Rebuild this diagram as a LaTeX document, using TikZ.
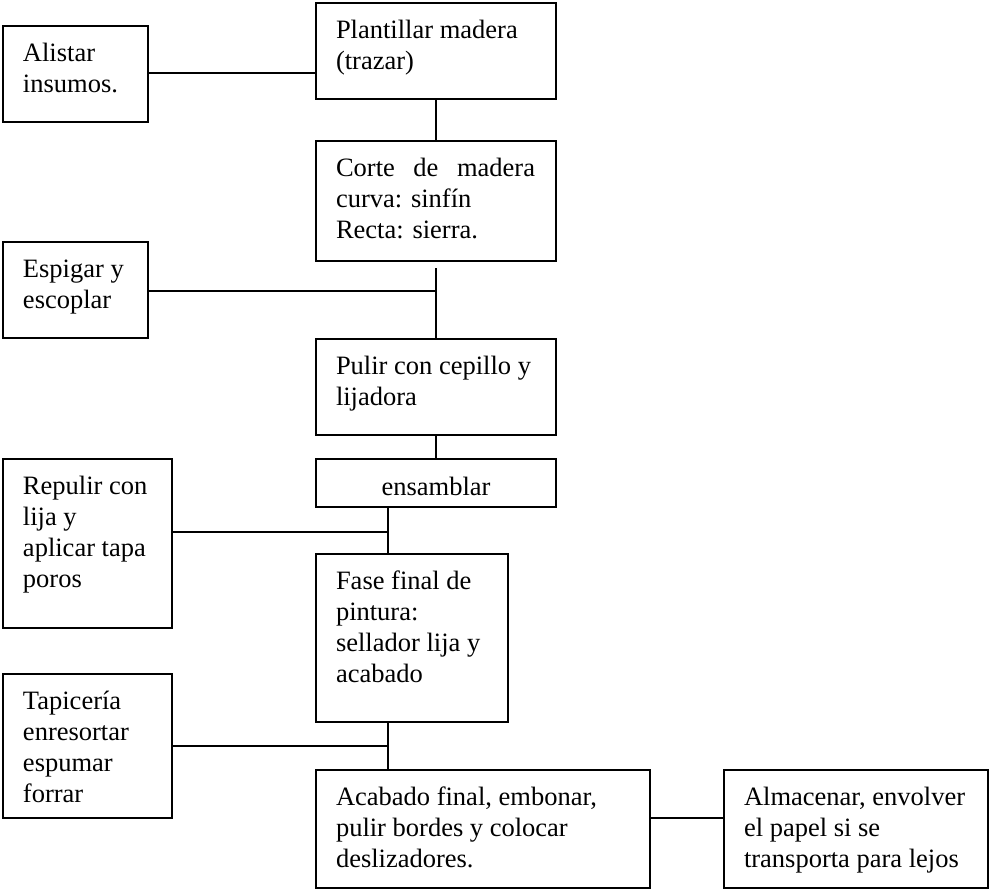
\documentclass[tikz,border=0pt]{standalone}
\usepackage{fontspec}
\setmainfont{Liberation Serif}
\usetikzlibrary{calc}

\tikzset{
  box/.style={draw=black, line width=1.8pt, inner sep=0pt, outer sep=0pt,
              rectangle, anchor=north west},
  txt/.style={inner sep=0pt, outer sep=0pt, anchor=base west,
              font=\fontsize{26.5}{31}\selectfont},
  conn/.style={draw=black, line width=1.8pt},
}

% a process box: name, left, top, right, bottom, text
\newcommand\procbox[6]{%
  \node[box, minimum width={#4-#2}, minimum height={#5-#3}] (#1) at (#2,#3) {};
  \node[txt] (#1-t) at ($(#1.north west)+(20,35.5)$)
    {\parbox[t]{300pt}{\raggedright #6}};
}

\begin{document}
\begin{tikzpicture}[x=1pt, y=-1pt]
  \fill[white] (0,0) rectangle (989,891);
  \useasboundingbox (0,0) rectangle (989,891);

  % main column
  \procbox{plantillar}{316}{3}{556}{99}{Plantillar madera\\(trazar)}
  \procbox{corte}{316}{141}{556}{261}{\makebox[199pt][s]{Corte de madera}\\curva: sinfín\\Recta: sierra.}
  \procbox{pulir}{316}{339}{556}{435}{Pulir con cepillo y\\lijadora}
  \node[box, minimum width=240pt, minimum height=48pt] (ensamblar) at (316,459) {};
  \node[txt, anchor=base] (ensamblar-t) at ($(ensamblar.north)+(0,36)$) {ensamblar};
  \procbox{fase}{316}{554}{508}{722}{Fase final de\\pintura:\\sellador lija y\\acabado}
  \procbox{acabado}{316}{770}{650}{888}{Acabado final, embonar,\\pulir bordes y colocar\\deslizadores.}
  \procbox{almacenar}{724}{770}{988}{888}{Almacenar, envolver\\el papel si se\\transporta para lejos}

  % side boxes
  \procbox{alistar}{3}{26}{148}{122}{Alistar\\insumos.}
  \procbox{espigar}{3}{242}{148}{338}{Espigar y\\escoplar}
  \procbox{repulir}{3}{459}{172}{628}{Repulir con\\lija y\\aplicar tapa\\poros}
  \procbox{tapiceria}{3}{674}{172}{818}{Tapicería\\enresortar\\espumar\\forrar}

  % connectors
  \coordinate (a1) at ($(alistar.east)+(0,-1)$);
  \draw[conn] (a1) -- (a1 -| plantillar.west);
  \draw[conn] (plantillar.south) -- (corte.north);

  \coordinate (cortegap) at ($(corte.south)+(0,7)$);
  \draw[conn] (cortegap) -- (pulir.north);
  \coordinate (e1) at ($(espigar.east)+(0,1)$);
  \draw[conn] (e1) -- (e1 -| pulir.north);

  \draw[conn] (pulir.south) -- (ensamblar.north);

  \coordinate (ensout) at ($(ensamblar.south west)+(72,0)$);
  \draw[conn] (ensout) -- (ensout |- fase.north);
  \coordinate (j1) at ($(ensout)+(0,25)$);
  \draw[conn] (j1 -| repulir.east) -- (j1);

  \coordinate (faseout) at (fase.south -| ensout);
  \draw[conn] (faseout) -- (faseout |- acabado.north);
  \draw[conn] (tapiceria.east) -- (tapiceria.east -| faseout);

  \coordinate (j3) at ($(acabado.north east)+(0,48)$);
  \draw[conn] (j3) -- (j3 -| almacenar.west);
\end{tikzpicture}
\end{document}
